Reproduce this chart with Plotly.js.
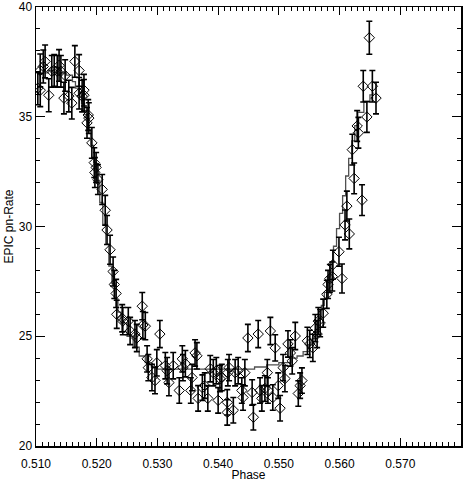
<!DOCTYPE html>
<html>
<head>
<meta charset="utf-8">
<script src="https://cdn.plot.ly/plotly-3.0.1.min.js"></script>
<style>html,body{margin:0;padding:0;background:#fff;}#chart{width:464px;height:482px;}</style>
</head>
<body>
<div id="chart"></div>
<script>
// Observed light-curve points (phase, EPIC pn rate, 1-sigma error)
const phase = [
0.5103,0.5107,0.5107,0.5112,0.5115,0.5121,0.5126,0.5130,0.5135,0.5138,
0.5141,0.5146,0.5148,0.5154,0.5159,0.5164,0.5171,0.5171,0.5176,0.5179,
0.5179,0.5184,0.5186,0.5187,0.5192,0.5196,0.5197,0.5199,0.5202,0.5209,
0.5214,0.5217,0.5222,0.5227,0.5229,0.5232,0.5233,0.5242,0.5243,0.5252,
0.5255,0.5263,0.5266,0.5275,0.5276,0.5280,0.5283,0.5285,0.5291,0.5296,
0.5299,0.5304,0.5313,0.5316,0.5319,0.5326,0.5336,0.5341,0.5342,0.5346,
0.5355,0.5357,0.5362,0.5365,0.5367,0.5374,0.5378,0.5383,0.5387,0.5392,
0.5397,0.5400,0.5403,0.5406,0.5415,0.5415,0.5416,0.5418,0.5425,0.5428,
0.5433,0.5439,0.5441,0.5444,0.5449,0.5456,0.5458,0.5466,0.5469,0.5472,
0.5477,0.5481,0.5482,0.5486,0.5490,0.5494,0.5499,0.5502,0.5507,0.5510,
0.5515,0.5519,0.5522,0.5527,0.5532,0.5535,0.5538,0.5547,0.5551,0.5556,
0.5560,0.5563,0.5565,0.5568,0.5573,0.5579,0.5581,0.5584,0.5588,0.5589,
0.5599,0.5604,0.5609,0.5612,0.5616,0.5621,0.5624,0.5629,0.5631,0.5637,
0.5639,0.5645,0.5649,0.5654,0.5660
];
const rate = [
36.30,37.11,36.21,37.29,37.52,35.98,37.07,37.11,37.07,37.34,
37.07,35.85,36.88,35.94,35.62,37.52,37.11,36.07,35.94,36.21,
35.98,34.72,35.08,34.94,33.81,32.91,32.46,32.69,32.14,31.69,
30.74,29.84,28.94,27.95,27.36,26.95,26.00,25.82,25.69,25.69,
25.24,25.10,24.92,26.37,25.51,25.46,23.97,23.57,23.12,22.98,
23.79,25.10,23.66,23.43,22.89,23.66,22.53,23.97,23.57,23.75,
22.53,23.12,24.24,24.11,22.17,22.66,22.75,22.17,23.52,23.34,
23.43,22.08,23.07,23.12,21.53,21.99,23.34,23.57,21.63,23.34,
23.43,22.53,22.21,23.34,24.92,22.44,21.31,25.10,22.53,22.17,
22.62,23.34,22.53,25.24,22.21,24.47,22.75,21.72,23.57,23.07,
24.65,24.24,23.88,25.01,22.39,22.75,22.98,24.79,24.65,24.47,
25.37,25.10,25.69,25.60,26.05,26.91,27.36,27.63,27.72,28.26,
28.85,27.63,30.07,30.93,29.66,33.50,32.19,34.58,34.27,31.20,
36.39,34.99,38.60,36.39,35.85
];
const rateErr = [
0.75,0.75,0.75,0.75,0.75,0.75,0.72,0.72,0.72,0.72,
0.72,0.72,0.72,0.72,0.72,0.72,0.72,0.72,0.72,0.72,
0.72,0.70,0.70,0.70,0.70,0.68,0.68,0.68,0.68,0.68,
0.68,0.66,0.66,0.66,0.64,0.64,0.64,0.62,0.62,0.62,
0.62,0.62,0.62,0.62,0.62,0.62,0.60,0.60,0.60,0.60,
0.60,0.62,0.60,0.60,0.60,0.60,0.58,0.60,0.60,0.60,
0.58,0.60,0.60,0.60,0.58,0.58,0.58,0.58,0.60,0.60,
0.60,0.58,0.60,0.60,0.58,0.58,0.60,0.60,0.58,0.60,
0.60,0.58,0.58,0.60,0.62,0.58,0.58,0.62,0.58,0.58,
0.58,0.60,0.58,0.62,0.58,0.60,0.58,0.58,0.60,0.60,
0.60,0.60,0.60,0.62,0.58,0.58,0.58,0.62,0.62,0.62,
0.62,0.62,0.62,0.62,0.64,0.64,0.64,0.64,0.66,0.66,
0.66,0.66,0.68,0.68,0.68,0.70,0.70,0.70,0.70,0.70,
0.72,0.70,0.75,0.72,0.72
];
// Model curve (stepped)
const modelPhase = [
0.5100,0.5110,0.5120,0.5130,0.5140,0.5150,0.5160,0.5165,0.5170,0.5175,
0.5180,0.5185,0.5190,0.5195,0.5200,0.5205,0.5210,0.5215,0.5220,0.5225,
0.5230,0.5235,0.5240,0.5250,0.5260,0.5270,0.5280,0.5290,0.5300,0.5350,
0.5400,0.5450,0.5460,0.5480,0.5500,0.5520,0.5530,0.5540,0.5550,0.5555,
0.5560,0.5565,0.5570,0.5575,0.5580,0.5585,0.5590,0.5595,0.5600,0.5605,
0.5610,0.5615,0.5620,0.5625,0.5630,0.5640,0.5650,0.5655
];
const modelRate = [
37.0,37.0,37.1,37.0,37.0,36.9,36.6,36.3,36.0,35.6,
35.1,34.4,33.7,32.9,32.1,31.1,30.1,29.2,28.2,27.4,
26.7,26.1,25.6,25.0,24.5,24.1,23.8,23.6,23.5,23.5,
23.5,23.5,23.6,23.7,23.8,24.0,24.1,24.3,24.6,24.9,
25.3,25.8,26.4,27.0,27.7,28.4,29.1,29.9,30.6,31.4,
32.3,33.1,33.9,34.6,35.2,35.7,36.0,36.1
];
const xTickVals = [0.510,0.520,0.530,0.540,0.550,0.560,0.570];
const xTickText = ['0.510','0.520','0.530','0.540','0.550','0.560','0.570'];
const yTickVals = [20,25,30,35,40];
const yTickText = ['20','25','30','35','40'];

const font = {family: 'Liberation Sans, Arial, sans-serif', size: 12, color: '#000'};

const traces = [
  {
    x: modelPhase, y: modelRate, type: 'scatter', mode: 'lines',
    line: {color: '#505050', width: 1.3, shape: 'hv'},
    hoverinfo: 'skip'
  },
  {
    x: phase, y: rate, type: 'scatter', mode: 'markers',
    marker: {symbol: 'diamond-open', size: 8, color: '#000', line: {width: 1, color: '#000'}},
    error_y: {type: 'data', array: rateErr, visible: true, color: '#000', thickness: 1.6, width: 3}
  }
];

const layout = {
  width: 464, height: 482,
  margin: {l: 36, r: 3, t: 7, b: 36, pad: 0},
  paper_bgcolor: '#fff', plot_bgcolor: '#fff',
  showlegend: false,
  font: font,
  xaxis: {
    range: [0.510, 0.580], autorange: false,
    tickvals: xTickVals, ticktext: xTickText,
    ticks: 'inside', ticklen: 8, tickwidth: 1, tickcolor: '#000',
    minor: {dtick: 0.001, tick0: 0.510, ticks: 'inside', ticklen: 4, tickwidth: 1, tickcolor: '#000', showgrid: false},
    showline: true, linecolor: '#000', linewidth: 1.5, mirror: 'ticks',
    showgrid: false, zeroline: false,
    tickfont: font, ticklabelstandoff: 6, ticklabeloverflow: 'allow',
    title: {text: 'Phase', font: font, standoff: 2}
  },
  yaxis: {
    range: [20, 40], autorange: false,
    tickvals: yTickVals, ticktext: yTickText,
    ticks: 'inside', ticklen: 9, tickwidth: 1, tickcolor: '#000',
    minor: {dtick: 1, tick0: 20, ticks: 'inside', ticklen: 4, tickwidth: 1, tickcolor: '#000', showgrid: false},
    showline: true, linecolor: '#000', linewidth: 1.5, mirror: 'ticks',
    showgrid: false, zeroline: false,
    tickfont: font, ticklabeloverflow: 'allow',
    title: {text: 'EPIC pn-Rate', font: font, standoff: 2}
  }
};

Plotly.newPlot('chart', traces, layout, {displayModeBar: false, staticPlot: true});
</script>
</body>
</html>
